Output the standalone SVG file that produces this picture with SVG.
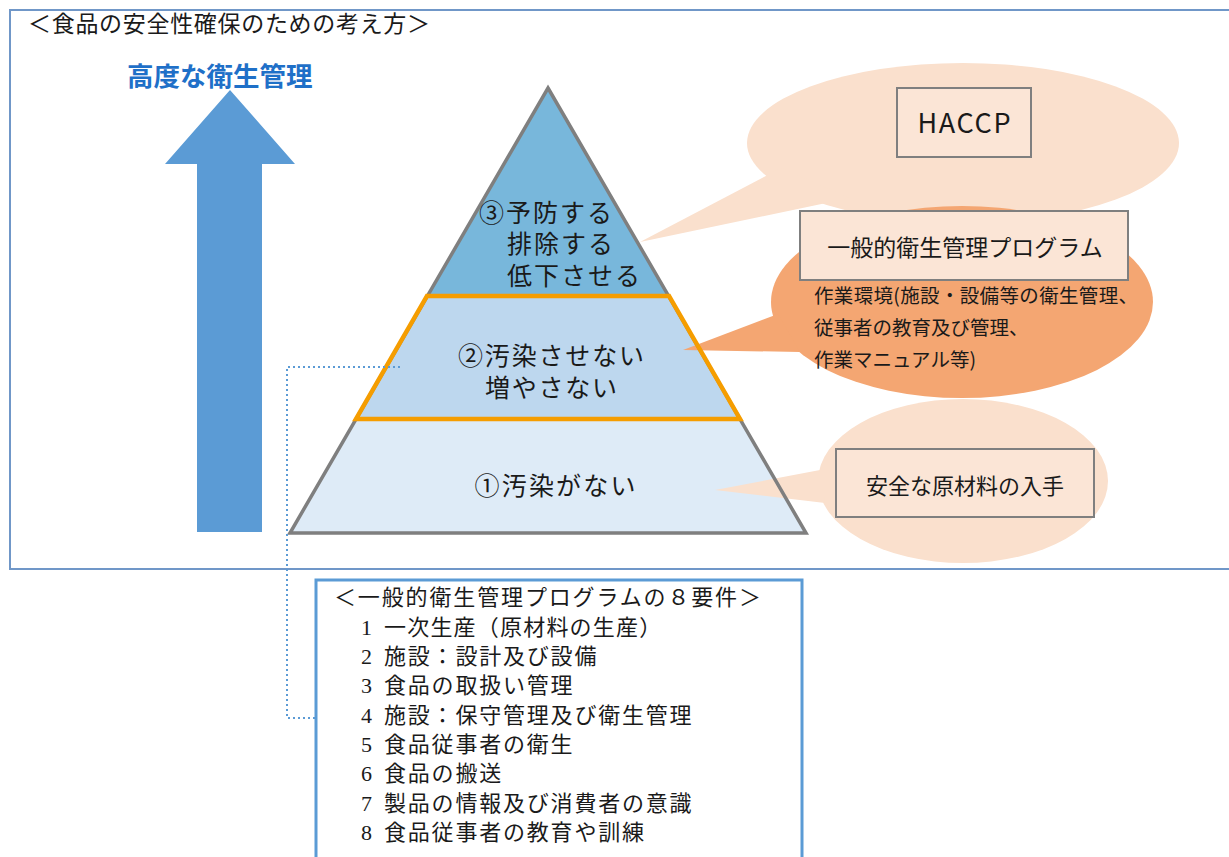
<svg xmlns="http://www.w3.org/2000/svg" width="1229" height="857" viewBox="0 0 1229 857">
<style>
.g{font-family:"Noto Sans CJK JP","Noto Sans",sans-serif;fill:#1a1a1a}
.p{font-family:"Noto Sans CJK JP","Noto Sans",sans-serif;fill:#1a1a1a;font-size:25px}
.m{font-family:"Liberation Serif","Noto Sans CJK JP",serif;fill:#1a1a1a;font-size:22px}
.box{fill:#fbe5d6;stroke:#7f7f7f;stroke-width:2}
.bub{fill:#fae0cd}
</style>
<rect width="1229" height="857" fill="#ffffff"/>
<rect id="frame" x="10" y="10" width="1235" height="559" fill="none" stroke="#7097c8" stroke-width="2"/>
<text class="g" x="28" y="32" font-size="23" textLength="402">＜食品の安全性確保のための考え方＞</text>
<g id="arrow">
<polygon points="165,164 230,90 295,164 262,164 262,532 197,532 197,164" fill="#5b9bd5"/>
<text x="127" y="86" font-size="26.5" font-weight="bold" fill="#1f70c8" font-family="Noto Sans CJK JP,sans-serif">高度な衛生管理</text>
</g>
<g id="pyramid">
<polygon points="548,88 669,296 427,296" fill="#78b7db"/>
<polygon points="427,296 669,296 740,419 356,419" fill="#bdd7ee"/>
<polygon points="356,419 740,419 806,533 290,533" fill="#deebf7"/>
</g>
<g id="bubble-haccp">
<ellipse class="bub" cx="963" cy="143" rx="216" ry="80"/>
<polygon class="bub" points="781,168 640,242 850,198"/>
<rect class="box" x="897" y="88" width="134" height="69"/>
<text class="g" x="964" y="133" font-size="27" text-anchor="middle" textLength="93" font-family="Liberation Sans,Noto Sans,sans-serif">HACCP</text>
</g>
<g id="bubble-general">
<ellipse cx="962" cy="302" rx="191" ry="96" fill="#f4a672"/>
<polygon points="778,314 683,350 800,352" fill="#f4a672"/>
<rect class="box" x="800" y="211" width="328" height="69"/>
<text class="g" x="965" y="256" font-size="23" text-anchor="middle">一般的衛生管理プログラム</text>
<text class="g" font-size="19.5"><tspan x="814" y="303" textLength="324">作業環境(施設・設備等の衛生管理、</tspan><tspan x="814" y="335">従事者の教育及び管理、</tspan><tspan x="814" y="367">作業マニュアル等)</tspan></text>
</g>
<g id="bubble-raw">
<ellipse class="bub" cx="963" cy="481" rx="145" ry="82"/>
<polygon class="bub" points="820,470 715,490 825,503"/>
<rect class="box" x="836" y="449" width="258" height="68"/>
<text class="g" x="965" y="494" font-size="22" text-anchor="middle">安全な原材料の入手</text>
</g>
<g id="pyramid-outline">
<polygon points="548,88 806,533 290,533" fill="none" stroke="#7f7f7f" stroke-width="3.5" stroke-linejoin="miter"/>
<polygon points="427,296 669,296 740,419 356,419" fill="none" stroke="#f59d00" stroke-width="4.5"/>
<text class="p"><tspan x="479" y="222" textLength="133">③予防する</tspan><tspan x="507" y="253" textLength="106">排除する</tspan><tspan x="507" y="285" textLength="133">低下させる</tspan></text>
<text class="p" text-anchor="middle"><tspan x="551" y="365" textLength="186">②汚染させない</tspan><tspan x="551" y="397" textLength="132">増やさない</tspan></text>
<text class="p" x="555" y="495" text-anchor="middle" textLength="161">①汚染がない</text>
</g>
<g id="connectors">
<polyline points="400,367 287,367 287,718 316,718" fill="none" stroke="#5b9bd5" stroke-width="2" stroke-dasharray="2,3"/>
</g>
<g id="requirements">
<rect x="316" y="580" width="486" height="300" fill="#ffffff" stroke="#5b9bd5" stroke-width="3"/>
<text class="m" x="334" y="605" textLength="427">＜一般的衛生管理プログラムの８要件＞</text>
<g>
<text class="m" x="361" y="635">1</text><text class="m" x="384" y="635" letter-spacing="1.2">一次生産（原材料の生産）</text>
<text class="m" x="361" y="664">2</text><text class="m" x="384" y="664" letter-spacing="1.8">施設：設計及び設備</text>
<text class="m" x="361" y="693">3</text><text class="m" x="384" y="693" letter-spacing="1.8">食品の取扱い管理</text>
<text class="m" x="361" y="723">4</text><text class="m" x="384" y="723" letter-spacing="1.8">施設：保守管理及び衛生管理</text>
<text class="m" x="361" y="752">5</text><text class="m" x="384" y="752" letter-spacing="1.8">食品従事者の衛生</text>
<text class="m" x="361" y="781">6</text><text class="m" x="384" y="781" letter-spacing="1.8">食品の搬送</text>
<text class="m" x="361" y="811">7</text><text class="m" x="384" y="811" letter-spacing="1.8">製品の情報及び消費者の意識</text>
<text class="m" x="361" y="840">8</text><text class="m" x="384" y="840" letter-spacing="1.8">食品従事者の教育や訓練</text>
</g>
</g>
</svg>
